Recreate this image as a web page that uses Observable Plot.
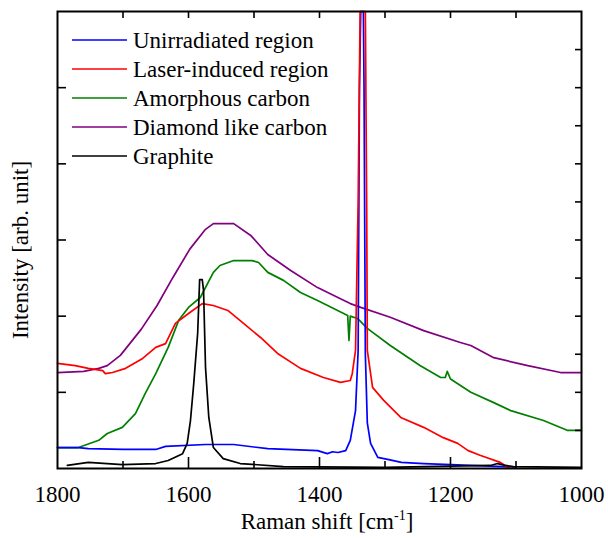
<!DOCTYPE html>
<html><head><meta charset="utf-8">
<script src="https://cdn.jsdelivr.net/npm/d3@7"></script>
<script src="https://cdn.jsdelivr.net/npm/@observablehq/plot@0.6"></script>
<style>
body{margin:0;background:#fff}
#xlabel{width:608px;box-sizing:border-box;padding-left:46px;text-align:center;font-family:'Liberation Serif';font-size:23px;line-height:28px;height:31px;color:#000;white-space:nowrap}
#xlabel sup{font-size:14px;line-height:0;vertical-align:9px}
</style>
</head><body><div id="chart"></div><div id="xlabel">Raman shift [cm<sup>-1</sup>]</div>
<script>
// Raman shift (cm-1), intensity (arb. unit)
const unirradiated = [[1800,0.55],[1768,0.55],[1753,0.52],[1700,0.50],[1650,0.50],[1635,0.58],[1574,0.63],[1531,0.63],[1479,0.52],[1403,0.47],[1388,0.39],[1380,0.44],[1372,0.42],[1360,0.47],[1353,0.74],[1345,1.52],[1341,3.1],[1339,10],[1337,13],[1333,13],[1332,10],[1330,3.0],[1327,1.2],[1322,0.66],[1311,0.29],[1296,0.24],[1275,0.16],[1241,0.13],[1169,0.08],[1100,0.04]];
const laserInduced = [[1800,2.76],[1773,2.70],[1753,2.63],[1731,2.57],[1727,2.49],[1716,2.52],[1696,2.63],[1670,2.89],[1650,3.18],[1635,3.28],[1620,3.81],[1600,4.07],[1579,4.33],[1562,4.28],[1540,4.15],[1516,3.81],[1490,3.44],[1464,3.02],[1429,2.63],[1394,2.39],[1368,2.26],[1353,2.31],[1350,2.49],[1345,3.1],[1341,7],[1338,14],[1334,16],[1330,14],[1328,7],[1327,3.1],[1319,2.13],[1302,1.79],[1276,1.34],[1241,1.08],[1211,0.81],[1189,0.66],[1173,0.47],[1154,0.34],[1124,0.16],[1111,0.02]];
const amorphous = [[1800,0.55],[1768,0.55],[1737,0.74],[1724,0.92],[1701,1.08],[1681,1.44],[1666,1.97],[1650,2.49],[1631,3.18],[1615,3.89],[1600,4.23],[1582,4.49],[1562,5.15],[1552,5.33],[1531,5.46],[1503,5.46],[1493,5.41],[1479,5.15],[1455,4.94],[1429,4.62],[1403,4.41],[1357,4.02],[1355,3.36],[1353,4.00],[1342,3.94],[1327,3.68],[1292,3.23],[1246,2.70],[1215,2.39],[1208,2.39],[1205,2.55],[1200,2.35],[1169,2.00],[1134,1.73],[1108,1.52],[1058,1.26],[1021,1.00],[1000,1.00]];
const diamondLike = [[1800,2.52],[1760,2.55],[1737,2.63],[1724,2.70],[1704,2.97],[1672,3.66],[1648,4.28],[1624,5.01],[1598,5.76],[1574,6.28],[1562,6.43],[1531,6.43],[1505,6.12],[1479,5.62],[1444,5.20],[1403,4.75],[1368,4.46],[1353,4.33],[1337,4.23],[1292,3.97],[1241,3.62],[1185,3.31],[1169,3.23],[1134,2.91],[1082,2.70],[1032,2.52],[1000,2.52]];
const graphite = [[1785,0.08],[1753,0.16],[1701,0.10],[1650,0.13],[1631,0.21],[1609,0.39],[1602,0.66],[1597,1.26],[1592,2.23],[1586,3.55],[1583,4.96],[1579,4.96],[1577,4.67],[1574,2.65],[1569,1.34],[1562,0.55],[1547,0.26],[1521,0.13],[1455,0.05],[1300,0.03],[1139,0.08],[1128,0.13],[1116,0.08],[1104,0.05],[1000,0.03]];

const seriesNames = ["Unirradiated region","Laser-induced region","Amorphous carbon","Diamond like carbon","Graphite"];
const seriesColors = ["#0000ff","#ff0000","#008000","#800080","#000000"];
const seriesData = [unirradiated, laserInduced, amorphous, diamondLike, graphite];
const drawOrder = [3, 2, 0, 1, 4];

const xTickLabels = [1800,1600,1400,1200,1000];
const xMinorTicks = [1700,1500,1300,1100];
const xTopTicks = [1700,1600,1500,1400,1300,1200,1100];
const yLeftTicks = [2,4,6,8,10];
const yRightTicks = [1,2,3,4,5,6,7,8,9,10,11];

const W = 608, H = 508, mL = 57, mR = 27, mT = 11, mB = 40;
const pw = W - mL - mR, ph = H - mT - mB;
const font = "Liberation Serif";

const marks = [];
for (const i of drawOrder) {
  marks.push(Plot.line(seriesData[i], {x: d => d[0], y: d => d[1], stroke: seriesColors[i], strokeWidth: 1.7}));
}
marks.push(
  Plot.ruleX(xTickLabels.slice(1, -1), {x: d => d, insetTop: ph - 11, strokeWidth: 1.6}),
  Plot.ruleX(xMinorTicks, {x: d => d, insetTop: ph - 7, strokeWidth: 1.6}),
  Plot.ruleX(xTopTicks, {x: d => d, insetBottom: ph - 7, strokeWidth: 1.6}),
  Plot.ruleY(yLeftTicks, {y: d => d, insetRight: pw - 9, strokeWidth: 1.6}),
  Plot.ruleY(yRightTicks, {y: d => d, insetLeft: pw - 6, strokeWidth: 1.6}),
  Plot.frame({stroke: "#000", strokeWidth: 2})
);

const chart = Plot.plot({
  width: W, height: H,
  marginLeft: mL, marginRight: mR, marginTop: mT, marginBottom: mB,
  style: {fontFamily: font, fontSize: "23px"},
  x: {domain: [1800, 1000], ticks: xTickLabels, tickSize: 0, tickPadding: 17, tickFormat: d => String(d), label: null},
  y: {domain: [0, 12], clamp: true, axis: null},
  marks
});

const svg = d3.select(chart);
// legend
const lg = svg.append("g").attr("text-anchor", "start");
seriesNames.forEach((name, i) => {
  const y = 40 + i * 29;
  lg.append("line").attr("x1", 72).attr("x2", 127).attr("y1", y).attr("y2", y)
    .attr("stroke", seriesColors[i]).attr("stroke-width", 1.7);
  lg.append("text").attr("x", 133).attr("y", y).attr("dy", "0.33em").attr("text-anchor", "start")
    .attr("font-family", font).attr("font-size", 23).attr("fill", "#000").text(name);
});
// y axis label
svg.append("text").attr("transform", "translate(28,250) rotate(-90)").attr("text-anchor", "middle")
  .attr("font-family", font).attr("font-size", 23).attr("fill", "#000").text("Intensity [arb. unit]");

document.getElementById("chart").appendChild(chart);
</script>
</body></html>
